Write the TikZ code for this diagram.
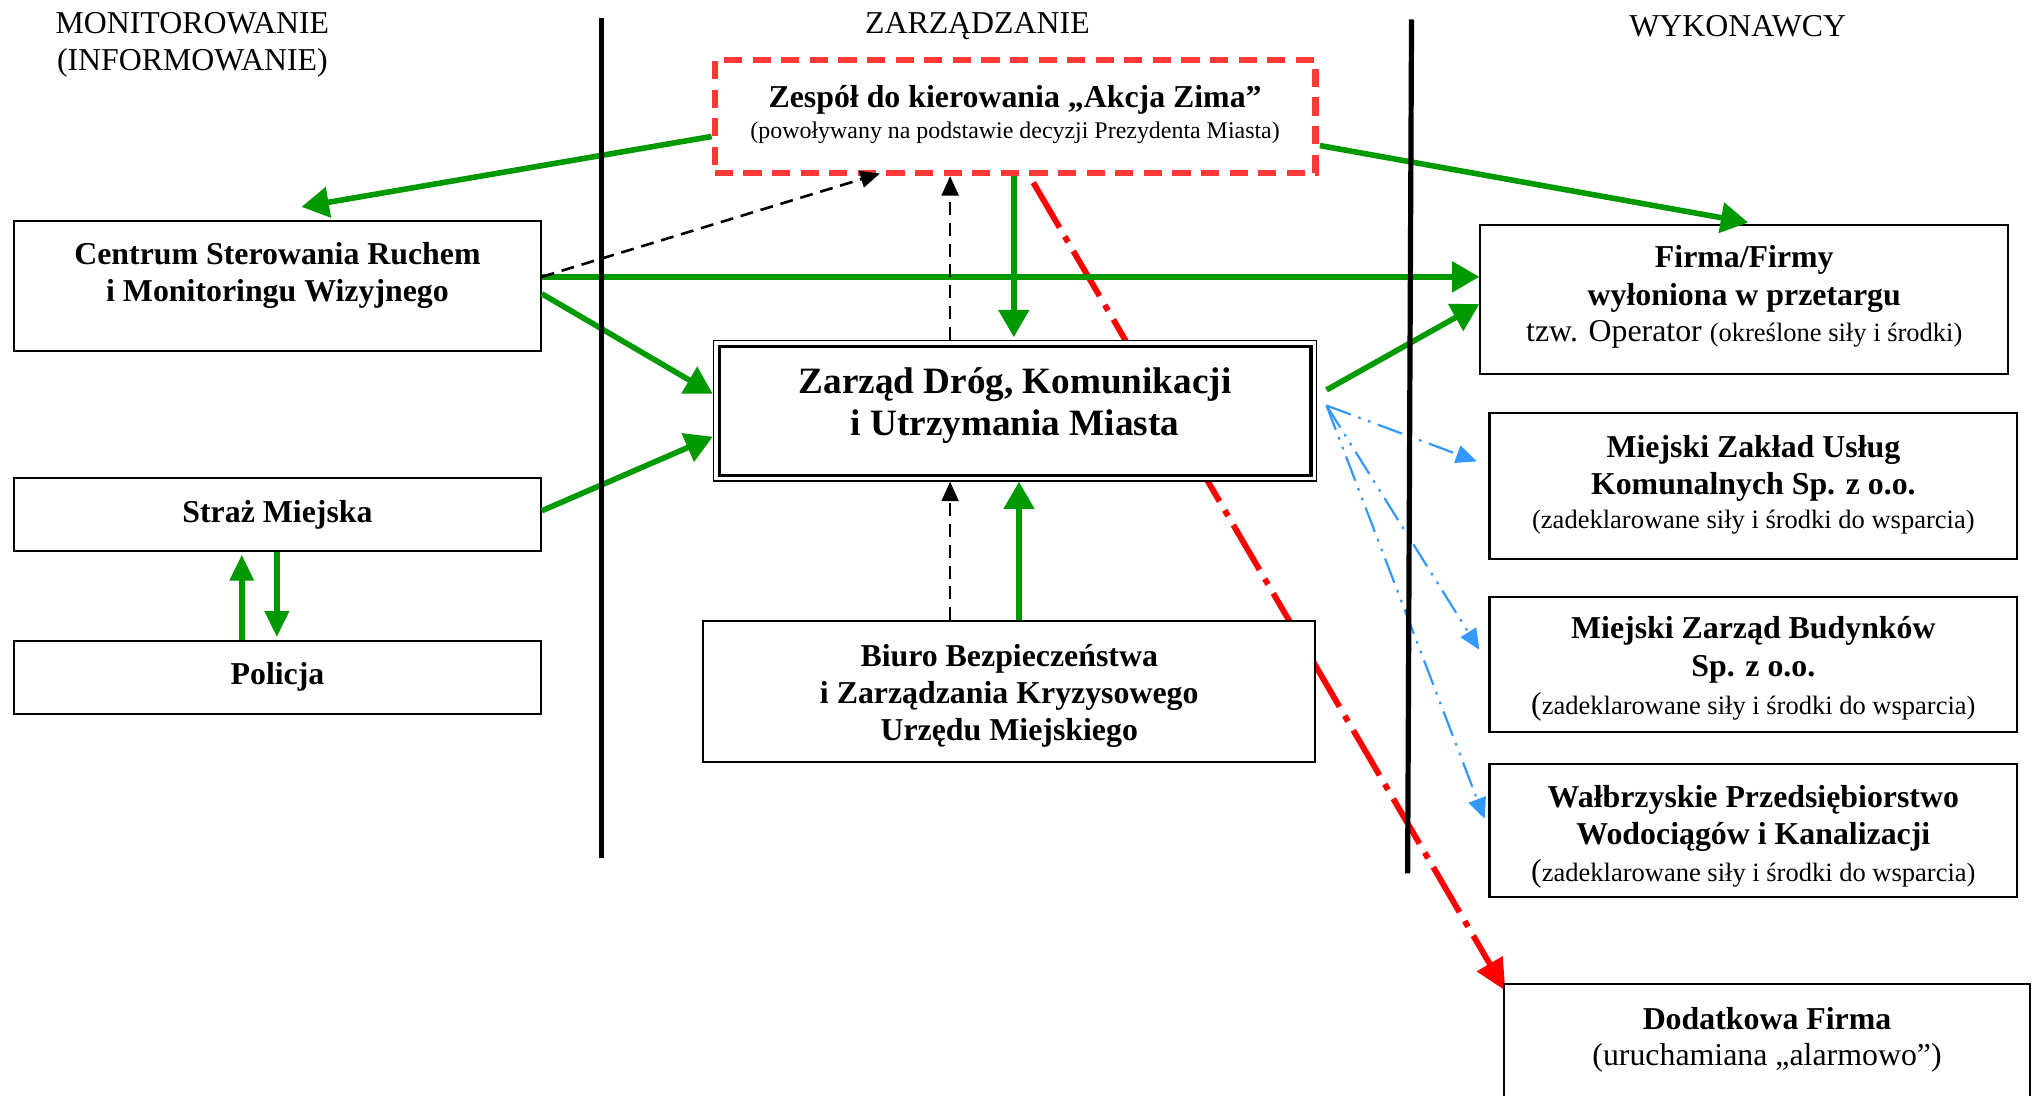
\documentclass[tikz,border=0pt]{standalone}
\usepackage{fontspec}
\setmainfont{Liberation Serif}
\usetikzlibrary{arrows.meta,calc}
\definecolor{gr}{RGB}{0,153,0}
\definecolor{rbox}{RGB}{255,56,56}
\definecolor{bl}{RGB}{51,153,255}
\newcommand\myline[3]{{\fontsize{#1}{#2}\selectfont #3\par}}
\newcommand\bx[4]{\parbox[c][#1][c]{#2}{\centering #4\vspace{#3}}}
\pgfdeclarelayer{background}
\pgfsetlayers{background,main}
\begin{document}
\begin{tikzpicture}[x=1pt,y=-1pt,
  box/.style={draw, line width=1.6pt, fill=white, inner sep=0pt},
  head/.style={inner sep=0pt, align=center, font=\fontsize{24.5pt}{29pt}\selectfont},
  garrow/.style={draw=gr, line width=4.3pt, -{Triangle[length=21pt,width=23pt]}},
  gsmall/.style={draw=gr, line width=4.3pt, -{Triangle[length=20pt,width=18pt]}},
  darrow/.style={draw=black, line width=2pt, dash pattern=on 10pt off 6pt, -{Triangle[length=15pt,width=13pt]}},
  barrow/.style={draw=bl, line width=1.7pt, dash pattern=on 20pt off 6pt on 2pt off 6pt on 2pt off 6pt, -{Triangle[length=16pt,width=14pt,fill=bl]}},
  rarrow/.style={draw=red, line width=4.5pt, dash pattern=on 40pt off 8pt on 5pt off 8pt, -{Triangle[length=24pt,width=22pt]}},
  divider/.style={line width=4pt}]
\useasboundingbox (0,0) rectangle (1568,842.5);

% headings
\node[head] (hmon) at (148,34.5) {MONITOROWANIE\\(INFORMOWANIE)};
\node[head] (hzar) at (752,20) {ZARZĄDZANIE};
\node[head] (hwyk) at (1337,20) {WYKONAWCY};

% boxes
\node[box, draw=rbox, line width=5pt, dash pattern=on 14pt off 8pt] (zespol) at (781,89.5)
  {\bx{87pt}{462pt}{3pt}{\myline{24.5pt}{24pt}{\bfseries Zespół do kierowania „Akcja Zima”}\myline{18.4pt}{24pt}{(powoływany na podstawie decyzji Prezydenta Miasta)}}};
\node[box] (centrum) at (213.5,220)
  {\bx{100pt}{405pt}{16pt}{\myline{24.5pt}{28pt}{\bfseries Centrum Sterowania Ruchem}\myline{24.5pt}{28pt}{\bfseries i Monitoringu Wizyjnego}}};
\node[box] (straz) at (213.5,396)
  {\bx{56pt}{405pt}{0pt}{\myline{24.5pt}{28pt}{\bfseries Straż Miejska}}};
\node[box] (policja) at (213.5,521)
  {\bx{56pt}{405pt}{0pt}{\myline{24.5pt}{28pt}{\bfseries Policja}}};
\node[box, line width=1.2pt] (zarzad) at (781,316)
  {\bx{108pt}{464pt}{8pt}{\myline{28.6pt}{32pt}{\bfseries Zarząd Dróg, Komunikacji}\myline{28.6pt}{32pt}{\bfseries i Utrzymania Miasta}}};
\draw[line width=2.6pt] ([shift={(5,5)}]zarzad.north west) rectangle ([shift={(-5,-5)}]zarzad.south east);
\node[box] (biuro) at (776.5,532)
  {\bx{108pt}{471pt}{-7pt}{\myline{24.5pt}{28.5pt}{\bfseries Biuro Bezpieczeństwa}\myline{24.5pt}{28.5pt}{\bfseries i Zarządzania Kryzysowego}\myline{24.5pt}{28.5pt}{\bfseries Urzędu Miejskiego}}};
\node[box] (firma) at (1342,230.5)
  {\bx{115pt}{406pt}{4pt}{\myline{24.5pt}{29pt}{\bfseries Firma/Firmy}\myline{24.5pt}{29pt}{\bfseries wyłoniona w przetargu}\myline{24.5pt}{28pt}{tzw. Operator {\fontsize{20.4pt}{24pt}\selectfont (określone siły i środki)}}}};
\node[box] (mzuk) at (1349,374)
  {\bx{112pt}{406pt}{2pt}{\myline{24.5pt}{28pt}{\bfseries Miejski Zakład Usług}\myline{24.5pt}{28pt}{\bfseries Komunalnych Sp. z o.o.}\myline{20.4pt}{26pt}{(zadeklarowane siły i środki do wsparcia)}}};
\node[box] (mzb) at (1349,511)
  {\bx{104pt}{406pt}{-7pt}{\myline{24.5pt}{29pt}{\bfseries Miejski Zarząd Budynków}\myline{24.5pt}{29pt}{\bfseries Sp. z o.o.}\myline{20.4pt}{29pt}{{\fontsize{24.5pt}{29pt}\selectfont (}zadeklarowane siły i środki do wsparcia)}}};
\node[box] (wpwik) at (1349,639)
  {\bx{102pt}{406pt}{-9pt}{\myline{24.5pt}{29pt}{\bfseries Wałbrzyskie Przedsiębiorstwo}\myline{24.5pt}{29pt}{\bfseries Wodociągów i Kanalizacji}\myline{20.4pt}{28pt}{{\fontsize{24.5pt}{29pt}\selectfont (}zadeklarowane siły i środki do wsparcia)}}};
\node[box] (dodat) at (1359.5,812)
  {\bx{110pt}{405pt}{24pt}{\myline{24.5pt}{28pt}{\bfseries Dodatkowa Firma}\myline{24.5pt}{28pt}{(uruchamiana „alarmowo”)}}};

% connectors
\coordinate (c3) at ([shift={(0,-7)}]centrum.east);
\coordinate (bs) at ([shift={(7,-4)}]zarzad.east);
\draw[garrow] ([shift={(0,15.5)}]zespol.west) -- ([shift={(18.5,-10)}]centrum.north);
\draw[garrow] ([shift={(1,22.5)}]zespol.east) -- ([shift={(3,-1)}]firma.north);
\draw[garrow] (c3) -- (c3 -| firma.west);
\draw[darrow] (c3) -- ([shift={(-104,-2)}]zespol.south);
\draw[garrow] ([shift={(0,6)}]centrum.east) -- ([shift={(0,-13)}]zarzad.west);
\draw[garrow] ([shift={(0,-3)}]straz.east) -- ([shift={(0,20)}]zarzad.west);
\draw[garrow] ([shift={(-1,0)}]zespol.south) -- ([shift={(-1,-2)}]zarzad.north);
\draw[darrow] ([shift={(-50,0)}]zarzad.north) -- ([shift={(-50,0)}]zespol.south);
\draw[darrow] ([shift={(-45.5,0)}]biuro.north) -- ([shift={(-50,0)}]zarzad.south);
\draw[garrow] ([shift={(7.5,0)}]biuro.north) -- ([shift={(3,0)}]zarzad.south);
\draw[gsmall] ([shift={(-0.5,0)}]straz.south) -- ([shift={(-0.5,-2)}]policja.north);
\draw[gsmall] ([shift={(-27.5,0)}]policja.north) -- ([shift={(-27.5,2)}]straz.south);
\draw[garrow] ([shift={(7,-16)}]zarzad.east) -- ([shift={(0,3.5)}]firma.west);
\draw[barrow] (bs) -- ([shift={(-9,-19)}]mzuk.west);
\draw[barrow] (bs) -- ([shift={(-7,-11)}]mzb.west);
\draw[barrow] (bs) -- ([shift={(-3,-9)}]wpwik.west);
\begin{pgfonlayer}{background}
\draw[rarrow] ([shift={(14,5)}]zespol.south) -- ([shift={(2,6)}]dodat.north west);
\end{pgfonlayer}

% dividers
\draw[divider] (463,14) -- (463,660);
\draw[divider] (1086,15) -- (1083,672);
\end{tikzpicture}
\end{document}
